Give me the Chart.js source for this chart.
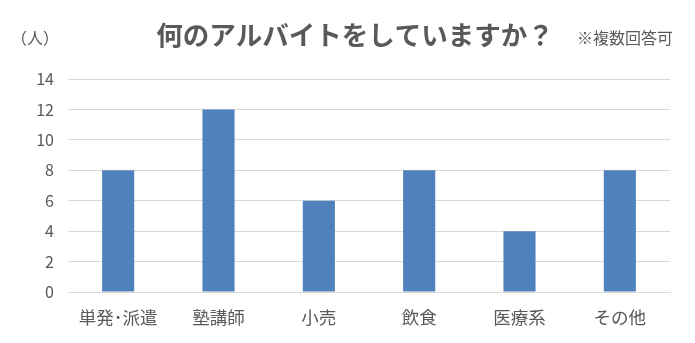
<!DOCTYPE html>
<html lang="ja">
<head>
<meta charset="UTF-8">
<title>何のアルバイトをしていますか？</title>
<script src="https://cdn.jsdelivr.net/npm/chart.js"></script>
<style>
  html, body { margin: 0; padding: 0; background: #fff; }
  #wrap { width: 695px; height: 343px; }
</style>
</head>
<body>
<div id="wrap"><canvas id="myChart" width="695" height="343"></canvas></div>
<script>
const categories = ['単発･派遣', '塾講師', '小売', '飲食', '医療系', 'その他'];
const counts = [8, 12, 6, 8, 4, 8];
const yTicks = [0, 2, 4, 6, 8, 10, 12, 14];

const titleText = '何のアルバイトをしていますか？';
const unitText = '（人）';
const noteText = '※複数回答可';
const jp = '"Noto Sans CJK JP", "Noto Sans", sans-serif';
const gray = '#595959';

// title and side notes drawn by hand so they sit where they do in the original
const headerTexts = {
  id: 'headerTexts',
  afterDraw(chart) {
    const c = chart.ctx;
    c.save();
    c.fillStyle = gray;
    c.textBaseline = 'middle';
    c.font = 'bold 26.5px ' + jp;
    c.textAlign = 'center';
    c.fillText(titleText, 355, 35);
    c.font = '16px ' + jp;
    c.textAlign = 'left';
    c.fillText(unitText, 11, 38);
    c.fillText(noteText, 577, 38);
    c.restore();
  }
};

const ctx = document.getElementById('myChart').getContext('2d');
new Chart(ctx, {
  type: 'bar',
  data: {
    labels: categories,
    datasets: [{
      data: counts,
      backgroundColor: '#4f81bd',
      barPercentage: 0.32,
      categoryPercentage: 1
    }]
  },
  options: {
    responsive: false,
    animation: false,
    layout: { padding: { top: 79, right: 25, left: 0, bottom: 0 } },
    plugins: { legend: { display: false }, tooltip: { enabled: false } },
    scales: {
      x: {
        grid: { display: false, drawTicks: false },
        border: { display: true, color: '#d9d9d9' },
        ticks: { color: gray, font: { family: jp, size: 17.5 }, padding: 15, maxRotation: 0 },
        afterFit(scale) { scale.height = 51; }
      },
      y: {
        min: 0,
        max: 14,
        afterBuildTicks(scale) { scale.ticks = yTicks.map(v => ({ value: v })); },
        grid: { color: '#d9d9d9', drawTicks: false },
        border: { display: false },
        ticks: { color: gray, font: { family: jp, size: 16 }, padding: 14 },
        afterFit(scale) { scale.width = 68; }
      }
    }
  },
  plugins: [headerTexts]
});
</script>
</body>
</html>
